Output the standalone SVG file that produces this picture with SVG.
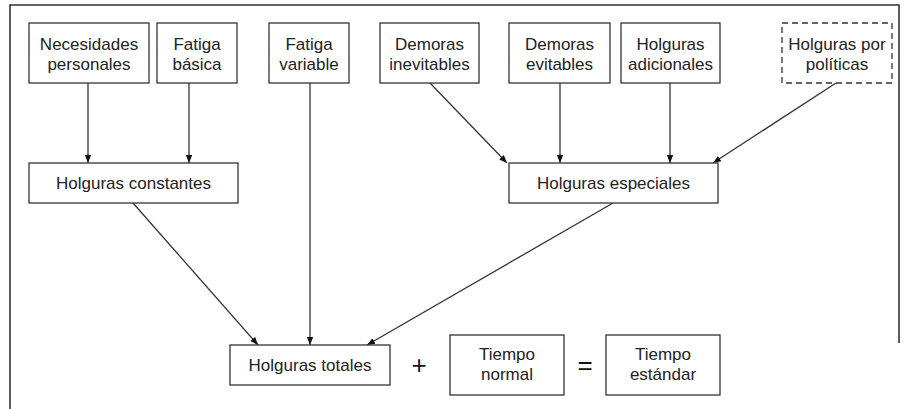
<svg xmlns="http://www.w3.org/2000/svg" width="913" height="409" viewBox="0 0 913 409">
<defs>
<style>
.box{fill:#fff;stroke:#333;stroke-width:1.3}
.dash{fill:#fff;stroke:#333;stroke-width:1.3;stroke-dasharray:6 4}
.t{font-family:"Liberation Sans",Arial,sans-serif;font-size:17px;fill:#222;text-anchor:middle}
.op{font-family:"Liberation Sans",Arial,sans-serif;font-size:26px;fill:#111;text-anchor:middle}
.c{stroke:#333;stroke-width:1.3;fill:none;marker-end:url(#ah)}
.frame{stroke:#333;stroke-width:1.6;fill:none}
</style>
<marker id="ah" viewBox="0 0 10 10" refX="10" refY="5" markerWidth="8" markerHeight="8" markerUnits="userSpaceOnUse" orient="auto">
<path d="M0,1 L10,5 L0,9 z" fill="#111"/>
</marker>
</defs>
<rect width="913" height="409" fill="#fff"/>
<path class="frame" d="M10,409 V5 H899 V343"/>
<g id="connectors">
<line class="c" x1="88" y1="83" x2="88" y2="163"/>
<line class="c" x1="189" y1="83" x2="189" y2="163"/>
<line class="c" x1="310" y1="83" x2="310" y2="345"/>
<line class="c" x1="430" y1="83" x2="507" y2="163"/>
<line class="c" x1="560" y1="83" x2="560" y2="163"/>
<line class="c" x1="670" y1="83" x2="670" y2="163"/>
<line class="c" x1="836" y1="83" x2="713" y2="163"/>
<line class="c" x1="133" y1="203" x2="258" y2="345"/>
<line class="c" x1="613" y1="203" x2="367" y2="345"/>
</g>
<g id="n-necesidades"><rect class="box" x="29" y="23" width="120" height="60"/><text class="t" x="89" y="50">Necesidades</text><text class="t" x="89" y="70">personales</text></g>
<g id="n-fatiga-basica"><rect class="box" x="157" y="23" width="80" height="60"/><text class="t" x="197" y="50">Fatiga</text><text class="t" x="197" y="70">básica</text></g>
<g id="n-fatiga-variable"><rect class="box" x="269" y="23" width="80" height="60"/><text class="t" x="309" y="50">Fatiga</text><text class="t" x="309" y="70">variable</text></g>
<g id="n-demoras-inevitables"><rect class="box" x="380" y="23" width="99" height="60"/><text class="t" x="429.5" y="50">Demoras</text><text class="t" x="429.5" y="70">inevitables</text></g>
<g id="n-demoras-evitables"><rect class="box" x="509" y="23" width="101" height="60"/><text class="t" x="559.5" y="50">Demoras</text><text class="t" x="559.5" y="70">evitables</text></g>
<g id="n-holguras-adicionales"><rect class="box" x="621" y="23" width="99" height="60"/><text class="t" x="670.5" y="50">Holguras</text><text class="t" x="670.5" y="70">adicionales</text></g>
<g id="n-holguras-politicas"><rect class="dash" x="782" y="23" width="110" height="60"/><text class="t" x="837" y="50">Holguras por</text><text class="t" x="837" y="70">políticas</text></g>
<g id="n-holguras-constantes"><rect class="box" x="29" y="163" width="209" height="40"/><text class="t" x="133.5" y="189">Holguras constantes</text></g>
<g id="n-holguras-especiales"><rect class="box" x="509" y="163" width="209" height="40"/><text class="t" x="613.5" y="189">Holguras especiales</text></g>
<g id="n-holguras-totales"><rect class="box" x="230" y="345" width="160" height="40"/><text class="t" x="310" y="371">Holguras totales</text></g>
<text class="op" x="419" y="374">+</text>
<g id="n-tiempo-normal"><rect class="box" x="450" y="335" width="114" height="60"/><text class="t" x="507" y="360">Tiempo</text><text class="t" x="507" y="380">normal</text></g>
<text class="op" x="585" y="374">=</text>
<g id="n-tiempo-estandar"><rect class="box" x="606" y="335" width="114" height="60"/><text class="t" x="663" y="360">Tiempo</text><text class="t" x="663" y="380">estándar</text></g>
</svg>
